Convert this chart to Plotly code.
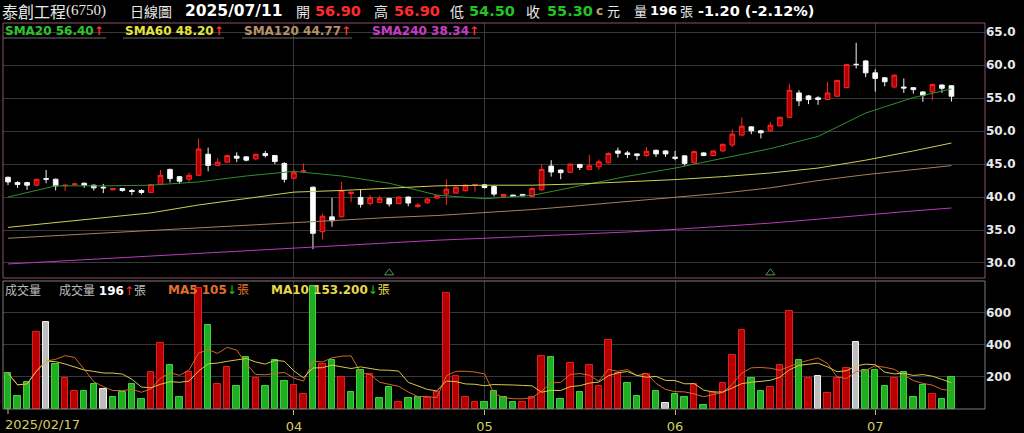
import pandas as pd
import plotly.graph_objects as go

# --- Data ---

holidays = ["2025-02-28", "2025-04-03", "2025-04-04", "2025-05-01", "2025-05-30"]
days = pd.bdate_range("2025-02-17", "2025-07-11")
days = days[~days.isin(pd.to_datetime(holidays))]
dates = [d.strftime("%Y/%m/%d") for d in days]

opens = [43.0, 42.2, 42.2, 41.8, 42.8, 42.7, 41.7, 41.9, 42.1, 41.8,
         41.5, 41.1, 41.3, 41.0, 41.0, 40.7, 41.9, 44.2, 43.1, 42.7,
         43.3, 46.5, 44.8, 45.3, 46.2, 46.1, 45.8, 46.6, 46.3, 45.1,
         42.85, 43.9, 41.5, 34.75, 37.0, 37.0, 40.55, 39.95, 39.0, 39.2,
         39.8, 39.0, 40.0, 38.55, 39.15, 39.85, 40.45, 40.6, 40.95, 41.8,
         41.85, 41.6, 40.05, 40.3, 40.4, 40.1, 41.1, 44.7, 44.1, 43.75,
         44.95, 44.2, 44.6, 45.2, 47.0, 46.7, 46.55, 46.3, 47.1, 47.0,
         46.05, 46.25, 45.2, 46.7, 46.3, 47.0, 47.9, 49.4, 50.65, 50.05,
         50.05, 50.8, 52.1, 55.8, 55.35, 55.05, 54.8, 55.3, 56.6, 60.15,
         60.65, 58.85, 58.1, 56.7, 56.7, 56.6, 55.95, 55.95, 57.0, 56.9]
highs = [43.1, 42.4, 42.3, 42.8, 44.1, 42.8, 41.9, 42.1, 42.2, 41.9,
         42.0, 41.4, 41.35, 41.2, 41.2, 42.0, 44.1, 44.3, 43.2, 43.7,
         48.9, 47.5, 45.9, 46.4, 46.8, 46.2, 46.6, 47.0, 46.4, 45.3,
         44.2, 45.1, 41.6, 37.5, 39.9, 42.3, 40.8, 41.1, 40.25, 40.2,
         39.9, 40.1, 40.1, 39.1, 39.85, 40.3, 42.7, 41.6, 41.9, 41.95,
         41.9, 41.7, 40.5, 40.35, 40.45, 41.5, 45.0, 45.6, 44.2, 45.1,
         45.0, 46.4, 45.7, 46.8, 47.5, 47.0, 46.6, 47.6, 47.2, 47.1,
         47.0, 46.3, 47.0, 46.8, 47.1, 48.1, 50.3, 52.1, 50.7, 50.2,
         51.4, 52.2, 57.2, 56.2, 55.5, 55.3, 57.5, 57.8, 60.2, 63.4,
         60.8, 59.4, 58.2, 58.6, 58.0, 56.7, 56.1, 57.2, 57.1, 56.9]
lows = [41.8, 41.4, 41.1, 41.7, 42.1, 41.0, 40.9, 41.8, 41.4, 41.0,
        40.6, 41.0, 40.8, 40.3, 40.4, 40.6, 41.8, 42.2, 42.0, 42.3,
        43.2, 43.9, 44.7, 45.2, 45.3, 45.4, 45.6, 46.0, 45.0, 42.2,
        42.7, 43.6, 32.1, 33.6, 35.5, 36.9, 39.2, 38.4, 38.75, 39.1,
        38.55, 38.9, 38.6, 38.4, 38.95, 39.7, 38.8, 40.5, 40.9, 40.8,
        41.3, 40.1, 39.95, 40.0, 40.1, 40.0, 40.9, 43.1, 42.7, 43.7,
        44.1, 44.1, 44.1, 45.1, 46.0, 45.9, 45.6, 46.1, 46.1, 46.1,
        45.6, 44.75, 45.1, 46.2, 46.2, 46.9, 47.6, 49.3, 49.55, 48.9,
        49.9, 50.7, 52.0, 53.8, 54.1, 54.0, 54.7, 55.2, 56.5, 59.5,
        58.2, 56.0, 56.8, 56.6, 55.8, 55.7, 54.45, 54.7, 55.8, 54.5]
closes = [42.3, 41.9, 41.8, 42.7, 42.7, 41.7, 41.8, 42.0, 41.8, 41.4,
          41.4, 41.3, 41.0, 40.85, 40.7, 41.9, 43.3, 42.8, 42.4, 43.3,
          47.3, 44.8, 45.3, 46.3, 45.9, 45.6, 46.5, 46.3, 45.4, 42.7,
          43.7, 44.0, 34.5, 37.1, 36.4, 41.0, 40.75, 38.9, 39.9, 39.8,
          38.95, 40.0, 39.1, 38.8, 39.7, 40.2, 41.2, 41.5, 41.8, 41.9,
          41.45, 40.45, 40.4, 40.1, 40.2, 41.3, 44.2, 43.8, 43.7, 45.0,
          44.5, 44.75, 45.35, 46.6, 46.65, 46.45, 46.3, 46.95, 46.55, 46.55,
          45.9, 45.1, 46.9, 46.3, 47.0, 48.0, 49.55, 50.75, 50.05, 49.75,
          50.9, 52.1, 56.2, 54.6, 54.8, 54.8, 55.8, 57.7, 60.1, 60.1,
          58.85, 58.0, 57.5, 58.5, 56.55, 56.3, 55.45, 57.1, 56.5, 55.3]
volumes = [222, 79, 166, 480, 542, 277, 193, 110, 112, 157,
           122, 75, 103, 157, 62, 228, 410, 271, 75, 230,
           750, 522, 153, 263, 143, 325, 190, 143, 306, 174,
           149, 93, 766, 280, 304, 199, 103, 244, 217, 68,
           135, 41, 68, 75, 68, 103, 720, 207, 75, 45,
           45, 114, 75, 41, 41, 75, 327, 325, 62, 286,
           103, 275, 141, 428, 224, 159, 83, 217, 114, 35,
           91, 75, 153, 25, 103, 159, 335, 490, 193, 114,
           135, 273, 607, 304, 195, 207, 99, 190, 258, 414,
           240, 240, 145, 195, 232, 73, 151, 91, 62, 196]

# moving averages of price, read at every 5th session
sma_idx = [0, 5, 10, 15, 20, 25, 30, 35, 40, 45, 50,
           55, 60, 65, 70, 75, 80, 85, 90, 95, 99]
sma20 = [40.0, 41.7, 41.7, 41.8, 42.3, 43.2, 43.9, 43.2, 42.1, 40.3, 39.75,
         40.25, 41.7, 43.15, 44.4, 45.85, 47.35, 49.2, 52.75, 55.1, 56.4]
sma60 = [35.4, 36.1, 36.8, 37.6, 38.8, 39.8, 40.75, 41.0, 41.35, 41.7, 41.8,
         41.8, 42.0, 42.3, 42.65, 43.1, 43.65, 44.4, 45.6, 47.0, 48.2]
sma120 = [33.75, 34.15, 34.55, 34.95, 35.35, 35.75, 36.15, 36.55, 36.9, 37.2, 37.6,
          38.1, 38.7, 39.3, 39.9, 40.6, 41.4, 42.5, 43.4, 44.1, 44.77]
sma240 = [29.85, 30.25, 30.65, 31.05, 31.45, 31.9, 32.3, 32.75, 33.1, 33.45, 33.75,
          34.05, 34.35, 34.7, 35.1, 35.55, 36.05, 36.65, 37.3, 37.9, 38.34]

event_idx = [40, 80]
month_idx = [30, 50, 70, 91]
month_labels = ["04", "05", "06", "07"]
price_ticks = [30, 35, 40, 45, 50, 55, 60, 65]
vol_ticks = [200, 400, 600]

# --- Layout helpers (pixel -> paper) ---
W, H = 1024, 433
ML, MR, MT, MB = 3, 39, 23, 24
PW = W - ML - MR
PH = H - MT - MB


def px(x):
    return (x - ML) / PW


def py(y):
    return (H - MB - y) / PH


NUM = "DejaVu Sans"
CJK = "Noto Sans CJK TC"
SERIF = "Liberation Serif"
RED = "#ff2a2a"
GREEN = "#22c422"
WHITE = "#e8e8e8"
GRID = "#383838"

# volume colours follow close vs previous close
prev = [opens[0]] + closes[:-1]
vol_fill, vol_line = [], []
for c, p in zip(closes, prev):
    if c > p:
        vol_fill.append("#b40000"); vol_line.append("#e02020")
    elif c < p:
        vol_fill.append("#1fae1f"); vol_line.append("#44d044")
    else:
        vol_fill.append("#bdbdbd"); vol_line.append("#f0f0f0")

vs = pd.Series(volumes)
ma5 = vs.rolling(5, min_periods=1).mean()
ma10 = vs.rolling(10, min_periods=1).mean()
sma_x = [dates[i] for i in sma_idx]

fig = go.Figure()
fig.add_trace(go.Candlestick(
    x=dates, open=opens, high=highs, low=lows, close=closes,
    increasing=dict(line=dict(color="#ff2424", width=1), fillcolor="#b00000"),
    decreasing=dict(line=dict(color="#f4f4f4", width=1), fillcolor="#ffffff"),
    whiskerwidth=0, xaxis="x", yaxis="y", showlegend=False, hoverinfo="skip",
))
for vals, col in [(sma20, "#2f8f2f"), (sma60, "#cfcf52"), (sma120, "#a3825f"), (sma240, "#b93cb9")]:
    fig.add_trace(go.Scatter(x=sma_x, y=vals, mode="lines", line=dict(color=col, width=1),
                             xaxis="x", yaxis="y", showlegend=False, hoverinfo="skip"))
fig.add_trace(go.Scatter(
    x=[dates[i] for i in event_idx], y=[28.5] * len(event_idx), mode="markers",
    marker=dict(symbol="triangle-up-open", size=8, color="#4f9a4f", line=dict(width=1)),
    xaxis="x", yaxis="y", showlegend=False, hoverinfo="skip",
))

fig.add_trace(go.Bar(
    x=dates, y=volumes, width=0.68,
    marker=dict(color=vol_fill, line=dict(color=vol_line, width=1)),
    xaxis="x2", yaxis="y2", showlegend=False, hoverinfo="skip",
))
fig.add_trace(go.Scatter(x=dates, y=ma5, mode="lines", line=dict(color="#d2692a", width=1),
                         xaxis="x2", yaxis="y2", showlegend=False, hoverinfo="skip"))
fig.add_trace(go.Scatter(x=dates, y=ma10, mode="lines", line=dict(color="#d8c84a", width=1),
                         xaxis="x2", yaxis="y2", showlegend=False, hoverinfo="skip"))

xcommon = dict(
    type="category", categoryorder="array", categoryarray=dates,
    range=[-0.525, 102.52], showgrid=True, gridcolor=GRID, gridwidth=1,
    tickvals=[dates[i] for i in month_idx], zeroline=False, showline=False,
    fixedrange=True,
)

fig.update_layout(
    width=W, height=H,
    margin=dict(l=ML, r=MR, t=MT, b=MB, pad=0, autoexpand=False),
    paper_bgcolor="#000000", plot_bgcolor="#000000",
    showlegend=False, bargap=0,
    xaxis=dict(domain=[0, 1], anchor="y", showticklabels=False, ticks="",
               rangeslider=dict(visible=False), **xcommon),
    xaxis2=dict(domain=[0, 1], anchor="y2", ticks="outside", ticklen=5, tickwidth=1,
                tickcolor="#c8c060", ticktext=month_labels,
                tickfont=dict(family=NUM, size=13, color="#d4cc62"), **xcommon),
    yaxis=dict(domain=[py(278), 1], side="right", range=[27.72, 66.41],
               tickvals=price_ticks, ticktext=[f"{v:.1f}" for v in price_ticks],
               showgrid=True, gridcolor=GRID, zeroline=False, ticks="",
               tickfont=dict(family=NUM, size=12, color=WHITE, weight="bold"),
               fixedrange=True),
    yaxis2=dict(domain=[0, py(281)], side="right", range=[0, 796],
                tickvals=vol_ticks, showgrid=True, gridcolor=GRID, zeroline=False, ticks="",
                tickfont=dict(family=NUM, size=12, color=WHITE, weight="bold"),
                fixedrange=True),
)

# panel borders
fig.add_shape(type="rect", xref="paper", yref="paper", x0=0, x1=1, y0=py(278), y1=1,
              line=dict(color="#8e4f66", width=1), layer="above")
fig.add_shape(type="rect", xref="paper", yref="paper", x0=0, x1=1, y0=0, y1=py(281),
              line=dict(color="#7c7c7c", width=1), layer="above")
# first-date tick under the volume panel
fig.add_shape(type="line", xref="x2", yref="paper", x0=dates[0], x1=dates[0],
              y0=0, y1=-5 / PH, line=dict(color="#c8c060", width=1))
fig.add_annotation(x=dates[0], xref="x2", y=py(425), yref="paper", text="2025/02/17",
                   xanchor="left", yanchor="middle", xshift=-5, showarrow=False,
                   font=dict(family=NUM, size=13, color="#d4cc62"))

# header line: (left px, text, colour, family, size, bold)
header = [
    (0, "泰創工程", WHITE, CJK, 16, False),
    (64, "(6750)", WHITE, SERIF, 15, False),
    (128, "日線圖", WHITE, CJK, 14, False),
    (183, "2025/07/11", "#ffffff", NUM, 15.5, True),
    (294, "開", WHITE, CJK, 14, False),
    (313, "56.90", RED, NUM, 14.5, True),
    (372, "高", WHITE, CJK, 14, False),
    (392, "56.90", RED, NUM, 14.5, True),
    (448, "低", WHITE, CJK, 14, False),
    (467, "54.50", GREEN, NUM, 14.5, True),
    (524, "收", WHITE, CJK, 14, False),
    (545, "55.30", GREEN, NUM, 14.5, True),
    (594, "c", "#c8a070", NUM, 12, True),
    (605, "元", WHITE, CJK, 13, False),
    (632, "量", WHITE, CJK, 13, False),
    (648, "196", "#ffffff", NUM, 13, True),
    (678, "張", WHITE, CJK, 13, False),
    (696, "-1.20 (-2.12%)", "#ffffff", NUM, 14.5, True),
]
for x, txt, col, fam, size, bold in header:
    fig.add_annotation(x=px(x), y=py(11), xref="paper", yref="paper", text=txt,
                       xanchor="left", yanchor="middle", showarrow=False,
                       font=dict(family=fam, size=size, color=col,
                                 weight="bold" if bold else "normal"))

# moving-average legend in the price panel
up = f"<span style='color:{RED}'>↑</span>"
down = f"<span style='color:{GREEN}'>↓</span>"
sma_legend = [
    (3, 106, f"SMA20 56.40{up}", "#2ec42e"),
    (123, 224, f"SMA60 48.20{up}", "#e4e43a"),
    (242, 352, f"SMA120 44.77{up}", "#b8906a"),
    (370, 480, f"SMA240 38.34{up}", "#c83cc8"),
]
for x0, x1, txt, col in sma_legend:
    fig.add_annotation(x=px(x0), y=py(31), xref="paper", yref="paper", text=txt,
                       xanchor="left", yanchor="middle", showarrow=False,
                       font=dict(family=NUM, size=12, color=col, weight="bold"))
    fig.add_shape(type="line", xref="paper", yref="paper", x0=px(x0), x1=px(x1),
                  y0=py(38), y1=py(38), line=dict(color="#6a6a6a", width=1))

# volume legend
vol_legend = [
    (3, "成交量", "#bdbdbd", CJK),
    (57, f"成交量 <b style='color:#ffffff'>196</b>{up}張", "#bdbdbd", CJK),
    (166, f"<b>MA5 105</b>{down}張", "#e0702a", CJK),
    (269, f"<b>MA10 153.200</b>{down}張", "#e6d84a", CJK),
]
for x, txt, col, fam in vol_legend:
    fig.add_annotation(x=px(x), y=py(290), xref="paper", yref="paper", text=txt,
                       xanchor="left", yanchor="middle", showarrow=False,
                       font=dict(family=f"{NUM}, {fam}", size=12, color=col))

# the page body has a default 8px margin; drop it so the figure sits at the corner
fig.write_html("out.html", config={"displayModeBar": False},
               post_script="document.body.style.margin='0';")
